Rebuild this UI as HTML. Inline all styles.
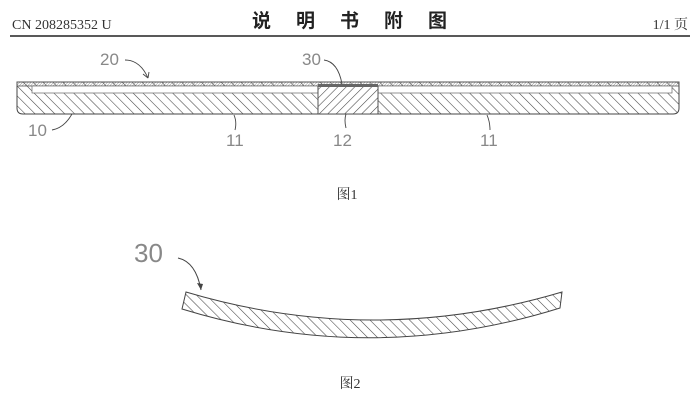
<!DOCTYPE html>
<html><head><meta charset="utf-8"><style>
body{margin:0;background:#fff;width:700px;height:413px;overflow:hidden}
</style></head><body>
<svg width="700" height="413" viewBox="0 0 700 413" xmlns="http://www.w3.org/2000/svg">
<defs>
<pattern id="h" width="7" height="7" patternUnits="userSpaceOnUse" patternTransform="rotate(-45)">
<line x1="0" y1="0" x2="0" y2="7" stroke="#444" stroke-width="1.1"/></pattern>
<pattern id="h2" width="6" height="6" patternUnits="userSpaceOnUse" patternTransform="rotate(45)">
<line x1="0" y1="0" x2="0" y2="6" stroke="#444" stroke-width="1.1"/></pattern>
<pattern id="t" width="2" height="2" patternUnits="userSpaceOnUse" patternTransform="rotate(45)">
<line x1="0" y1="0" x2="0" y2="2" stroke="#777" stroke-width="0.8"/></pattern>
</defs>
<text x="12" y="29" font-family="Liberation Serif, serif" font-size="14" fill="#333">CN 208285352 U</text>
<text x="362" y="27" text-anchor="middle" font-family="Liberation Sans, Noto Sans CJK SC, sans-serif" font-size="19" font-weight="bold" letter-spacing="25" fill="#222">说明书附图</text>
<text x="688" y="29" text-anchor="end" font-family="Liberation Serif, Noto Serif CJK SC, serif" font-size="14" fill="#333">1/1 页</text>
<line x1="10" y1="36" x2="690" y2="36" stroke="#222" stroke-width="1.6"/>
<!-- fig1 -->
<path d="M17 82 H679 V108 Q679 114 673 114 H23 Q17 114 17 108 Z" fill="url(#h)" stroke="#444" stroke-width="1"/>
<rect x="17" y="82" width="662" height="4" fill="url(#t)" stroke="#555" stroke-width="0.8"/>
<rect x="32" y="86" width="286" height="7" fill="#fff" stroke="#666" stroke-width="0.7"/>
<rect x="378" y="86" width="294" height="7" fill="#fff" stroke="#666" stroke-width="0.7"/>
<rect x="318" y="86" width="60" height="28" fill="#fff"/>
<rect x="318" y="86" width="60" height="28" fill="url(#h2)" stroke="#444" stroke-width="0.9"/>
<rect x="318" y="84" width="60" height="3" fill="#666"/>
<g font-family="Liberation Sans, sans-serif" font-size="17" fill="#888" stroke="none">
<text x="100" y="65">20</text>
<text x="302" y="65">30</text>
<text x="28" y="136">10</text>
<text x="226" y="146">11</text>
<text x="333" y="146">12</text>
<text x="480" y="146">11</text>
</g>
<g fill="none" stroke="#444" stroke-width="0.9">
<path d="M125 60 Q140 60 148 78"/><path d="M148 78 l-5 -4 M148 78 l1 -6"/>
<path d="M324 60 Q338 62 342 84"/>
<path d="M52 130 Q64 128 72 114"/>
<path d="M235 130 Q237 122 234 115"/>
<path d="M346 128 Q344 120 346 114"/>
<path d="M490 130 Q490 122 487 115"/>
</g>
<text x="347" y="199" text-anchor="middle" font-family="Liberation Serif, Noto Serif CJK SC, serif" font-size="14" fill="#333">图1</text>
<!-- fig2 -->
<path d="M186 292 Q374 348 562 292 L560 308 Q371 367 182 309 Z" fill="url(#h)" stroke="#444" stroke-width="1"/>
<text x="134" y="262" font-family="Liberation Sans, sans-serif" font-size="26" fill="#888">30</text>
<path d="M178 258 Q196 262 201 290" fill="none" stroke="#444" stroke-width="1"/>
<path d="M201 290 l-4 -7 l6 1 z" fill="#444"/>
<text x="350" y="388" text-anchor="middle" font-family="Liberation Serif, Noto Serif CJK SC, serif" font-size="14" fill="#333">图2</text>
</svg>
</body></html>
